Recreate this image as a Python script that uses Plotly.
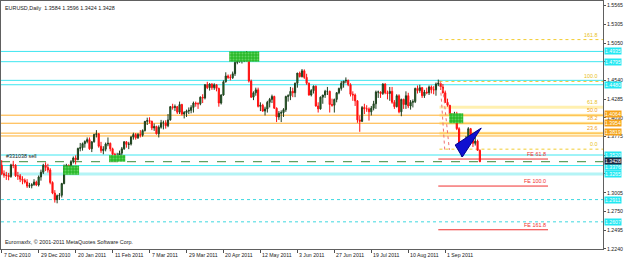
import plotly.graph_objects as go

# ---------------- data ----------------
bar_open = [1.3380,1.3265,1.3245,1.3240,1.3225,1.3385,1.3380,1.3235,1.3235,1.3190,1.3175,1.3150,1.3095,1.3100,1.3115,1.3150,1.3110,1.3220,1.3285,
 1.3380,1.3350,1.3315,1.3145,1.3000,1.2910,1.2965,1.2970,1.3130,1.3365,1.3380,1.3315,1.3430,1.3480,1.3455,1.3610,1.3620,1.3675,1.3705,1.3730,1.3605,
 1.3700,1.3800,1.3810,1.3640,1.3580,1.3600,1.3670,1.3680,1.3605,1.3530,1.3485,1.3505,1.3545,1.3605,1.3700,1.3665,1.3670,1.3765,1.3800,1.3755,
 1.3800,1.3790,1.3855,1.3980,1.3990,1.3980,1.3890,1.3910,1.3810,1.3900,1.3960,1.3960,1.3920,1.4000,1.4180,1.4170,1.4180,1.4105,1.4210,1.4080,1.4100,1.4120,1.4130,
 1.4170,1.4230,1.4220,1.4220,1.4310,1.4300,1.4480,1.4440,1.4490,1.4440,1.4480,1.4430,1.4230,1.4340,1.4520,1.4600,1.4580,1.4575,1.4630,1.4785,1.4810,
 1.4810,1.4830,1.4830,1.4830,1.4530,1.4310,1.4370,1.4410,1.4185,1.4200,1.4120,1.4150,1.4240,1.4280,1.4320,1.4160,1.4040,1.4090,1.4100,1.4140,1.4320,1.4330,
 1.4390,1.4370,1.4500,1.4640,1.4590,1.4670,1.4580,1.4500,1.4340,1.4400,1.4460,1.4190,1.4150,1.4310,1.4340,1.4390,1.4390,1.4210,1.4200,1.4280,1.4370,1.4430,
 1.4500,1.4530,1.4540,1.4480,1.4350,1.4340,1.4260,1.4000,1.3980,1.4170,1.4150,1.4150,1.4110,1.4160,1.4220,1.4380,1.4380,1.4360,1.4490,1.4370,1.4360,
 1.4390,1.4240,1.4180,1.4330,1.4110,1.4280,1.4210,1.4330,1.4190,1.4240,1.4250,1.4430,1.4400,1.4440,1.4330,1.4380,1.4370,1.4450,1.4410,1.4410,1.4490,1.4500,1.4450,
 1.4370,1.4240,1.4200,1.4080,1.4030,1.4080,1.3880,1.3650,1.3660,1.3690,1.3750,1.3880,1.3790,1.3680,1.3710,1.3584]
bar_high = [1.3450,1.3310,1.3290,1.3275,1.3400,1.3440,1.3395,1.3290,1.3260,1.3230,1.3200,1.3190,1.3140,1.3135,1.3190,1.3170,1.3240,1.3320,1.3400,
 1.3420,1.3400,1.3340,1.3160,1.3040,1.2980,1.3000,1.3140,1.3390,1.3400,1.3390,1.3450,1.3500,1.3515,1.3620,1.3685,1.3690,1.3720,1.3760,1.3760,1.3710,
 1.3810,1.3860,1.3820,1.3700,1.3640,1.3690,1.3760,1.3690,1.3620,1.3550,1.3550,1.3580,1.3630,1.3710,1.3710,1.3700,1.3780,1.3825,1.3820,1.3820,
 1.3860,1.3870,1.3985,1.4030,1.4035,1.3990,1.3950,1.3920,1.3925,1.4000,1.3990,1.3995,1.4080,1.4190,1.4220,1.4210,1.4190,1.4250,1.4220,1.4120,1.4140,1.4170,1.4200,
 1.4250,1.4250,1.4240,1.4320,1.4350,1.4490,1.4520,1.4500,1.4500,1.4500,1.4490,1.4440,1.4350,1.4540,1.4650,1.4620,1.4620,1.4660,1.4800,1.4880,1.4860,
 1.4880,1.4860,1.4940,1.4860,1.4550,1.4390,1.4440,1.4440,1.4240,1.4220,1.4180,1.4260,1.4300,1.4345,1.4330,1.4170,1.4120,1.4130,1.4160,1.4330,1.4350,1.4450,
 1.4440,1.4510,1.4640,1.4660,1.4695,1.4690,1.4630,1.4510,1.4420,1.4470,1.4470,1.4240,1.4320,1.4340,1.4410,1.4450,1.4400,1.4290,1.4290,1.4380,1.4440,1.4530,
 1.4530,1.4580,1.4550,1.4500,1.4390,1.4360,1.4270,1.4060,1.4190,1.4220,1.4200,1.4170,1.4190,1.4260,1.4400,1.4400,1.4390,1.4500,1.4500,1.4400,1.4450,
 1.4450,1.4270,1.4350,1.4350,1.4290,1.4290,1.4390,1.4370,1.4270,1.4280,1.4440,1.4470,1.4480,1.4450,1.4410,1.4440,1.4470,1.4470,1.4460,1.4510,1.4550,1.4510,1.4490,
 1.4400,1.4290,1.4200,1.4090,1.4110,1.4110,1.3900,1.3690,1.3730,1.3780,1.3900,1.3890,1.3800,1.3770,1.3730,1.3596]
bar_low = [1.3245,1.3210,1.3180,1.3175,1.3210,1.3340,1.3220,1.3180,1.3150,1.3120,1.3130,1.3070,1.3070,1.3065,1.3100,1.3095,1.3090,1.3170,1.3260,
 1.3300,1.3280,1.3120,1.2985,1.2870,1.2860,1.2905,1.2940,1.3120,1.3290,1.3270,1.3290,1.3405,1.3390,1.3450,1.3570,1.3580,1.3620,1.3680,1.3590,1.3560,
 1.3690,1.3760,1.3620,1.3550,1.3530,1.3570,1.3640,1.3570,1.3500,1.3430,1.3440,1.3460,1.3520,1.3590,1.3620,1.3600,1.3650,1.3730,1.3730,1.3740,
 1.3760,1.3770,1.3840,1.3930,1.3950,1.3860,1.3850,1.3800,1.3760,1.3880,1.3870,1.3880,1.3900,1.3990,1.4140,1.4120,1.4080,1.4080,1.4060,1.4020,1.4040,1.4080,1.4090,
 1.4100,1.4180,1.4150,1.4200,1.4230,1.4280,1.4420,1.4400,1.4410,1.4410,1.4390,1.4180,1.4210,1.4330,1.4510,1.4560,1.4540,1.4560,1.4600,1.4760,1.4780,
 1.4770,1.4790,1.4800,1.4510,1.4300,1.4270,1.4330,1.4170,1.4120,1.4110,1.4060,1.4100,1.4170,1.4230,1.4150,1.3970,1.4000,1.3970,1.4040,1.4110,1.4250,1.4270,
 1.4310,1.4310,1.4440,1.4580,1.4580,1.4560,1.4480,1.4330,1.4320,1.4360,1.4180,1.4100,1.4140,1.4220,1.4300,1.4340,1.4100,1.4180,1.4100,1.4240,1.4350,1.4400,
 1.4440,1.4500,1.4460,1.4320,1.4260,1.4190,1.3960,1.3837,1.3970,1.4080,1.4110,1.3990,1.4060,1.4130,1.4150,1.4300,1.4300,1.4340,1.4350,1.4280,1.4260,
 1.4220,1.4150,1.4170,1.4090,1.4050,1.4150,1.4150,1.4160,1.4140,1.4170,1.4230,1.4360,1.4370,1.4300,1.4300,1.4350,1.4340,1.4360,1.4350,1.4330,1.4460,1.4410,1.4360,
 1.4230,1.4180,1.4060,1.3970,1.3970,1.3860,1.3620,1.3495,1.3610,1.3590,1.3700,1.3720,1.3630,1.3650,1.3580,1.3424]
bar_close = [1.3265,1.3245,1.3240,1.3225,1.3385,1.3380,1.3235,1.3235,1.3190,1.3175,1.3150,1.3095,1.3100,1.3115,1.3150,1.3110,1.3220,1.3285,1.3380,
 1.3350,1.3315,1.3145,1.3000,1.2910,1.2965,1.2970,1.3130,1.3365,1.3380,1.3315,1.3430,1.3480,1.3455,1.3610,1.3620,1.3675,1.3705,1.3730,1.3605,1.3700,
 1.3800,1.3810,1.3640,1.3580,1.3600,1.3670,1.3680,1.3605,1.3530,1.3485,1.3505,1.3545,1.3605,1.3700,1.3665,1.3670,1.3765,1.3800,1.3755,1.3800,
 1.3790,1.3855,1.3980,1.3990,1.3980,1.3890,1.3910,1.3810,1.3900,1.3960,1.3960,1.3920,1.4000,1.4180,1.4170,1.4180,1.4105,1.4210,1.4080,1.4100,1.4120,1.4130,1.4170,
 1.4230,1.4220,1.4220,1.4310,1.4300,1.4480,1.4440,1.4490,1.4440,1.4480,1.4430,1.4230,1.4340,1.4520,1.4600,1.4580,1.4575,1.4630,1.4785,1.4810,1.4810,
 1.4830,1.4830,1.4830,1.4530,1.4310,1.4370,1.4410,1.4185,1.4200,1.4120,1.4150,1.4240,1.4280,1.4320,1.4160,1.4040,1.4090,1.4100,1.4140,1.4320,1.4330,1.4390,
 1.4370,1.4500,1.4640,1.4590,1.4670,1.4580,1.4500,1.4340,1.4400,1.4460,1.4190,1.4150,1.4310,1.4340,1.4390,1.4390,1.4210,1.4200,1.4280,1.4370,1.4430,1.4500,
 1.4530,1.4540,1.4480,1.4350,1.4340,1.4260,1.4000,1.3980,1.4170,1.4150,1.4150,1.4110,1.4160,1.4220,1.4380,1.4380,1.4360,1.4490,1.4370,1.4360,1.4390,
 1.4240,1.4180,1.4330,1.4110,1.4280,1.4210,1.4330,1.4190,1.4240,1.4250,1.4430,1.4400,1.4440,1.4330,1.4380,1.4370,1.4450,1.4410,1.4410,1.4490,1.4500,1.4450,1.4370,
 1.4240,1.4200,1.4080,1.4030,1.4080,1.3880,1.3650,1.3660,1.3690,1.3750,1.3880,1.3790,1.3680,1.3710,1.3584,1.3428]

date_tick_bars = [0, 16, 32, 48, 64, 80, 96, 112, 128, 144, 160, 176, 192]
date_tick_labels = ["7 Dec 2010", "29 Dec 2010", "20 Jan 2011", "11 Feb 2011", "7 Mar 2011", "29 Mar 2011",
                    "20 Apr 2011", "12 May 2011", "3 Jun 2011", "27 Jun 2011", "19 Jul 2011", "10 Aug 2011", "1 Sep 2011"]
price_ticks = [1.5565, 1.5305, 1.5050, 1.4795, 1.4540, 1.4285, 1.4030, 1.3775, 1.3520, 1.3265, 1.3005, 1.2750, 1.2495, 1.2240]

cyan_levels = [1.4935, 1.4795, 1.4540, 1.4480, 1.3520, 1.3376]
cyan_thick_levels = [1.3262]
cyan_dotted_levels = [1.2911, 1.2607]
cyan_boxes = ["1.4935", "1.4795", "1.4480", "1.3520", "1.3376", "1.3265", "1.2911", "1.2607"]
cyan_box_prices = [1.4935, 1.4795, 1.4480, 1.3520, 1.3376, 1.3265, 1.2911, 1.2607]
orange_levels = [1.4064, 1.3954, 1.3819, 1.3780]
orange_boxes = ["1.4064", "1.3954", "1.3819"]
order_price = 1.3430
bid_price = 1.3428

fibo_labels = ["161.8", "100.0", "61.8", "50.0", "38.2", "23.6", "0.0"]
fibo_prices = [1.5097, 1.4525, 1.4172, 1.4063, 1.3953, 1.3818, 1.3600]
fibo_start_bar = 189.5
fe_labels = ["FE 61.8", "FE 100.0", "FE 161.8"]
fe_prices = [1.3465, 1.3096, 1.2499]
fe_bars = [189.0, 236.5]

zones_x = [(98.5, 111.5), (26.6, 33.5), (46.5, 53.5), (193.7, 199.8)]
zones_y = [(1.4935, 1.4795), (1.3376, 1.3250), (1.3520, 1.3428), (1.4090, 1.3954)]

triangle_x = [196.3, 199.4, 207.6]
triangle_y = [1.3657, 1.3493, 1.3889]
fe_ray_x = [(189.8, 191.8), (191.0, 193.8)]
fe_ray_y = [(1.4535, 1.3590), (1.4430, 1.3590)]

# ---------------- figure ----------------
n = len(bar_close)
xs = list(range(n))
FONT = "Liberation Sans"
fig = go.Figure()

X0, X1 = -0.3, 260.3
shapes = []
def hline(y, color, width=1, dash="solid", x0=X0, x1=X1, layer="below"):
    shapes.append(dict(type="line", xref="x", yref="y", x0=x0, x1=x1, y0=y, y1=y,
                       line=dict(color=color, width=width, dash=dash), layer=layer))

for p in cyan_thick_levels:
    hline(p, "#B4F4F6", 3)
for p in cyan_levels:
    hline(p, "#3EE6F0", 1)
for p in cyan_dotted_levels:
    hline(p, "#3ED8E0", 1, "dot")
for lab, p in zip(fibo_labels, fibo_prices):
    if lab in ("161.8", "100.0", "0.0"):
        hline(p, "#F2CC30", 1, "dot", x0=fibo_start_bar)
    else:
        hline(p, "#FFF0B0", 3, x0=fibo_start_bar)
for p in orange_levels:
    hline(p, "#FFB030", 1)
hline(order_price, "#5FA05F", 1.2, "dash")
for p in fe_prices:
    hline(p, "#F03030", 1, x0=fe_bars[0], x1=fe_bars[1])

fig.update_layout(shapes=shapes)

# green zones
for (xa, xb), (ya, yb) in zip(zones_x, zones_y):
    fig.add_trace(go.Scatter(x=[xa, xb, xb, xa, xa], y=[ya, ya, yb, yb, ya], mode="lines",
                             fill="toself", fillcolor="#2FBF2F", line=dict(width=0),
                             fillpattern=dict(shape=".", bgcolor="#28B828", fgcolor="#9CF09C", size=3, solidity=0.35),
                             hoverinfo="skip", showlegend=False))

# FE dotted rays
for (xa, xb), (ya, yb) in zip(fe_ray_x, fe_ray_y):
    fig.add_trace(go.Scatter(x=[xa, xb], y=[ya, yb], mode="lines",
                             line=dict(color="#F07070", width=1, dash="dot"), hoverinfo="skip", showlegend=False))

fig.add_trace(go.Candlestick(x=xs, open=bar_open, high=bar_high, low=bar_low, close=bar_close,
                             increasing=dict(fillcolor="#1E8E1E", line=dict(color="#1F3F1F", width=1)),
                             decreasing=dict(fillcolor="#FF1010", line=dict(color="#FF1010", width=1)),
                             whiskerwidth=0, showlegend=False, hoverinfo="skip"))

fig.add_trace(go.Scatter(x=triangle_x + [triangle_x[0]], y=triangle_y + [triangle_y[0]], mode="lines",
                         fill="toself", fillcolor="#1010D0", line=dict(color="#000090", width=1),
                         hoverinfo="skip", showlegend=False))

ann = []
small = dict(family=FONT, size=5.4, color="#202020")
ann.append(dict(text="EURUSD,Daily  1.3584 1.3596 1.3424 1.3428", xref="paper", yref="paper", x=0, y=1,
                xanchor="left", yanchor="top", xshift=2, yshift=-2, showarrow=False, font=small))
ann.append(dict(text="Euromaxfx, © 2001-2011 MetaQuotes Software Corp.", xref="paper", yref="paper", x=0, y=0,
                xanchor="left", yanchor="bottom", xshift=2, yshift=2, showarrow=False, font=small))
ann.append(dict(text="#331038 sell", xref="paper", yref="y", x=0, y=order_price, xanchor="left", yanchor="bottom",
                xshift=3, yshift=1, showarrow=False, font=small))
for b, lab in zip(date_tick_bars, date_tick_labels):
    ann.append(dict(text=lab, xref="x", yref="paper", x=b, y=0, xanchor="left", yanchor="top",
                    xshift=0, yshift=-1, showarrow=False, font=dict(family=FONT, size=5.2, color="#202020")))
for lab, p in zip(fibo_labels, fibo_prices):
    col = "#E8C020" if lab in ("161.8", "100.0", "61.8", "0.0") else "#F0A020"
    ann.append(dict(text=lab, xref="paper", yref="y", x=1, y=p, xanchor="right", yanchor="bottom",
                    xshift=-3, yshift=0, showarrow=False, font=dict(family=FONT, size=5.4, color=col)))
for lab, p in zip(fe_labels, fe_prices):
    ann.append(dict(text=lab, xref="x", yref="y", x=fe_bars[1], y=p, xanchor="right", yanchor="bottom",
                    xshift=0, yshift=0, showarrow=False, font=dict(family=FONT, size=5.4, color="#F03030")))
box_shift = {"1.3376": -1.5}
for lab, p in zip(cyan_boxes, cyan_box_prices):
    ann.append(dict(text=lab, xref="paper", yref="y", x=1, y=p, xanchor="left", yanchor="middle", xshift=1,
                    yshift=box_shift.get(lab, 0), showarrow=False, bgcolor="#22E8F2", borderpad=0,
                    font=dict(family=FONT, size=5.2, color="#F8FFFF")))
orange_shift = {"1.4064": 1.5, "1.3819": 1.5}
for lab, p in zip(orange_boxes, orange_levels):
    ann.append(dict(text=lab, xref="paper", yref="y", x=1, y=p, xanchor="left", yanchor="middle", xshift=1,
                    yshift=orange_shift.get(lab, 0), showarrow=False, bgcolor="#F5A21A", borderpad=0,
                    font=dict(family=FONT, size=5.2, color="#FFFFF0")))
ann.append(dict(text="1.3428", xref="paper", yref="y", x=1, y=bid_price, xanchor="left", yanchor="middle", xshift=1,
                yshift=0.5, showarrow=False, bgcolor="#1C2640", borderpad=0, font=dict(family=FONT, size=5.2, color="#FFFFFF")))

boxed = set(cyan_boxes) | set(orange_boxes)
tick_text = ["" if f"{v:.4f}" in boxed else f"{v:.4f}" for v in price_ticks]

fig.update_layout(
    width=625, height=259, margin=dict(l=1, r=22, t=1, b=10),
    paper_bgcolor="white", plot_bgcolor="white", annotations=ann,
    xaxis=dict(range=[X0, X1], showgrid=False, zeroline=False, rangeslider=dict(visible=False),
               tickvals=date_tick_bars, showticklabels=False, ticks="outside", ticklen=3, tickcolor="#505050",
               showline=True, mirror=True, linecolor="#606060", linewidth=1),
    yaxis=dict(range=[1.2236, 1.5624], side="right", showgrid=False, zeroline=False,
               tickvals=price_ticks, ticktext=tick_text, ticks="outside", ticklen=2,
               tickcolor="#505050", tickfont=dict(family=FONT, size=5.2, color="#202020"),
               showline=True, mirror=True, linecolor="#606060", linewidth=1),
    showlegend=False,
)
fig.write_html("out.html")
